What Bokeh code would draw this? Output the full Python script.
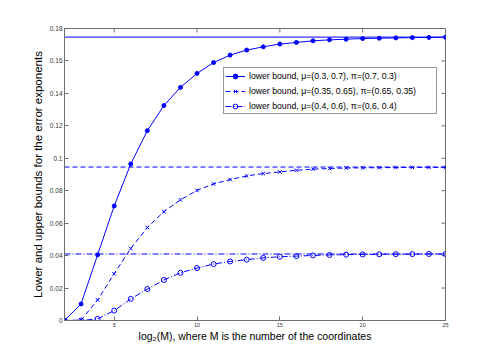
from bokeh.plotting import figure
from bokeh.models import (LinearAxis, FixedTicker, Range1d, Legend, LegendItem,
                          CustomJSTickFormatter)
from bokeh.embed import file_html
from bokeh.resources import INLINE

# ---- data ----
log2M = [2, 3, 4, 5, 6, 7, 8, 9, 10, 11, 12, 13, 14, 15, 16, 17, 18, 19, 20, 21, 22, 23, 24, 25]
lower_1 = [0, 0.0102, 0.0405, 0.0706, 0.0965, 0.117, 0.1325, 0.1437, 0.1523, 0.159, 0.1636, 0.1667,
           0.1687, 0.1704, 0.1714, 0.1724, 0.173, 0.1734, 0.1738, 0.174, 0.1742, 0.1744, 0.1745, 0.1746]
lower_2 = [0, 0.0003, 0.0127, 0.0288, 0.0444, 0.0573, 0.0671, 0.0744, 0.0802, 0.0842, 0.0869, 0.0891,
           0.0906, 0.0916, 0.0926, 0.0933, 0.0937, 0.094, 0.0941, 0.0942, 0.0943, 0.0944, 0.0944, 0.0944]
lower_3 = [0, 0, 0.001, 0.0061, 0.0133, 0.0194, 0.025, 0.0294, 0.0323, 0.0348, 0.0364, 0.0375,
           0.0386, 0.0393, 0.0397, 0.0401, 0.0404, 0.0406, 0.0407, 0.0408, 0.0409, 0.0409, 0.041, 0.041]
upper = [0.1747, 0.0946, 0.041]
labels = ["lower bound, \u03bc=(0.3, 0.7), \u03c0=(0.7, 0.3)",
          "lower bound, \u03bc=(0.35, 0.65), \u03c0=(0.65, 0.35)",
          "lower bound, \u03bc=(0.4, 0.6), \u03c0=(0.6, 0.4)"]
x_ticks = [5, 10, 15, 20, 25]
y_ticks = [0, 0.02, 0.04, 0.06, 0.08, 0.1, 0.12, 0.14, 0.16, 0.18]
x_label = "log\u2082(M), where M is the number of the coordinates"
y_label = "Lower and upper bounds for the error exponents"

BLUE = "#0000ff"
AX = "#6e6e6e"
FONT = "Liberation Sans"
X0, X1 = 2, 25
Y0, Y1 = 0, 0.18
FW, FH = 381, 292
TICK = 4

p = figure(output_backend="svg", toolbar_location=None,
           frame_width=FW, frame_height=FH,
           x_range=Range1d(X0, X1), y_range=Range1d(Y0, Y1),
           x_axis_location=None, y_axis_location=None,
           min_border_left=64, min_border_right=28,
           min_border_top=28, min_border_bottom=28)
p.grid.visible = False
p.outline_line_color = AX
p.outline_line_width = 1
p.background_fill_color = "white"
p.border_fill_color = "white"

fmt = CustomJSTickFormatter(code="return tick.toFixed(2).replace(/0+$/,'').replace(/\\.$/,'');")

def make_axis(ticks, font_size, standoff):
    ax = LinearAxis(ticker=FixedTicker(ticks=ticks), formatter=fmt)
    ax.axis_line_color = AX
    ax.axis_line_width = 1
    ax.major_tick_line_color = AX
    ax.major_tick_in = TICK
    ax.major_tick_out = 0
    ax.minor_tick_line_color = None
    ax.major_label_text_font = FONT
    ax.major_label_text_font_size = font_size
    ax.major_label_text_color = "#333333"
    ax.major_label_standoff = standoff
    ax.axis_label_text_font = FONT
    ax.axis_label_text_font_style = "normal"
    ax.axis_label_text_color = "#000000"
    return ax

bottom = make_axis(x_ticks, "5.5px", 2)
bottom.axis_label = x_label
bottom.axis_label_text_font_size = "10.5px"
bottom.axis_label_standoff = 0

left = make_axis(y_ticks, "6.5px", 2)
left.axis_label = y_label
left.axis_label_text_font_size = "11.5px"
left.axis_label_standoff = 3

p.add_layout(bottom, "below")
p.add_layout(left, "left")

# inward ticks on the top and right edges of the box
dx = TICK * (X1 - X0) / FW
dy = TICK * (Y1 - Y0) / FH
p.segment(x0=x_ticks, x1=x_ticks, y0=[Y1] * len(x_ticks), y1=[Y1 - dy] * len(x_ticks),
          line_color=AX, line_width=1)
p.segment(x0=[X1] * len(y_ticks), x1=[X1 - dx] * len(y_ticks), y0=y_ticks, y1=y_ticks,
          line_color=AX, line_width=1)

# upper bounds (horizontal lines spanning the data range)
dashes = ["solid", "5 3", "6 2 1 2"]
for u, d in zip(upper, dashes):
    p.line(x=[log2M[0], log2M[-1]], y=[u, u], line_color=BLUE, line_width=1, line_dash=d)

items = []
l1 = p.line(log2M, lower_1, line_color=BLUE, line_width=1)
m1 = p.scatter(log2M, lower_1, marker="circle", size=4, fill_color=BLUE, line_color=BLUE)
items.append(LegendItem(label=labels[0], renderers=[l1, m1]))

l2 = p.line(log2M, lower_2, line_color=BLUE, line_width=1, line_dash="5 3")
m2 = p.scatter(log2M, lower_2, marker="x", size=5, line_color=BLUE, line_width=1)
items.append(LegendItem(label=labels[1], renderers=[l2, m2]))

l3 = p.line(log2M, lower_3, line_color=BLUE, line_width=1, line_dash="6 2 1 2")
m3 = p.scatter(log2M, lower_3, marker="circle", size=5, fill_color=None, line_color=BLUE, line_width=1)
items.append(LegendItem(label=labels[2], renderers=[l3, m3]))

legend = Legend(items=items, location=(159, 206))
legend.label_text_font = FONT
legend.label_text_font_size = "8.7px"
legend.label_text_color = "#000000"
legend.glyph_width = 20
legend.glyph_height = 12
legend.label_height = 13
legend.label_width = 186
legend.label_standoff = 4
legend.spacing = 2
legend.padding = 1
legend.margin = 0
legend.border_line_color = "#333333"
legend.border_line_width = 1
legend.background_fill_color = "white"
legend.background_fill_alpha = 1
p.add_layout(legend, "center")

open("out.html", "w").write(file_html(p, INLINE))
